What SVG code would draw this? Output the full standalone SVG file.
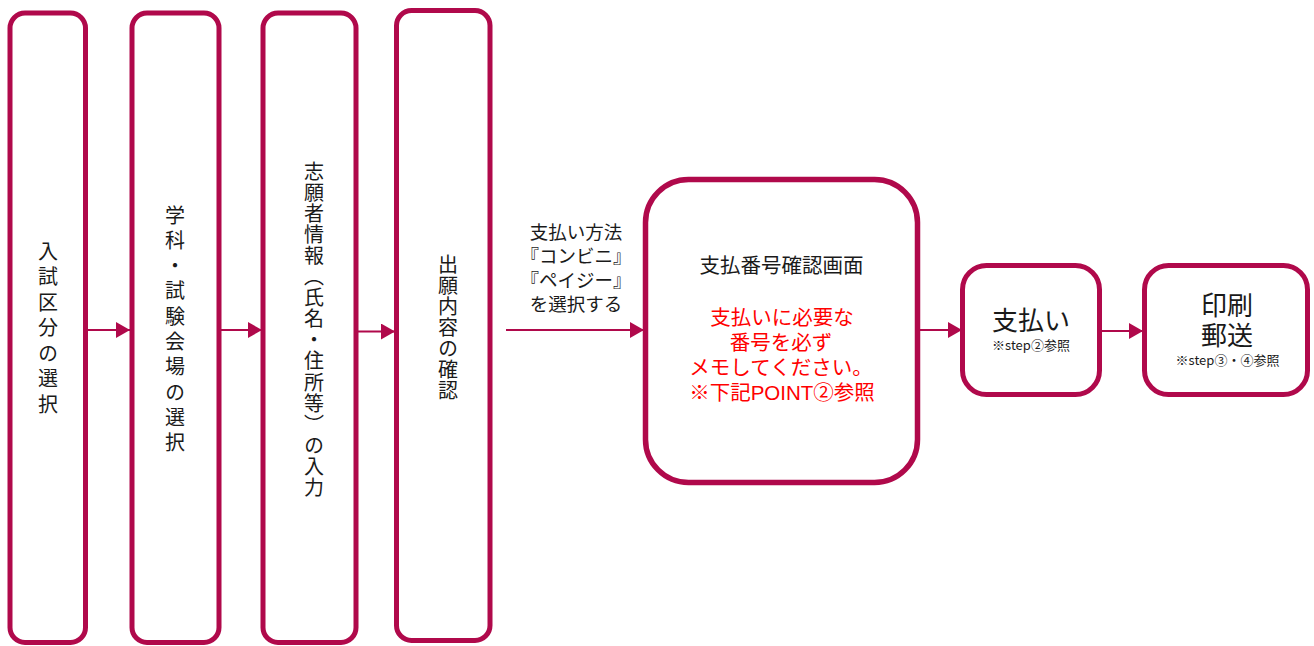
<svg xmlns="http://www.w3.org/2000/svg" width="1314" height="646" viewBox="0 0 1314 646">
<defs>
<style>
.box{fill:#fff;stroke:#B0094B;stroke-width:5}
.big{fill:#fff;stroke:#B0094B;stroke-width:5.5}
.con{stroke:#B0094B;stroke-width:2;fill:none}
.t{font-family:"Noto Sans CJK JP","Liberation Sans",sans-serif;fill:#1a1a1a}
.m{font-family:"Liberation Sans","Noto Sans CJK JP",sans-serif;fill:#1a1a1a}
.v{writing-mode:vertical-rl;font-size:20px}
.red{fill:#FF0000}
</style>
<marker id="ah" markerWidth="14" markerHeight="16" refX="14" refY="8" orient="auto" markerUnits="userSpaceOnUse">
<path d="M0,0 L14,8 L0,16 Z" fill="#B0094B"/>
</marker>
</defs>
<rect width="1314" height="646" fill="#fff"/>
<g id="connectors">
<line class="con" x1="88" y1="330" x2="130" y2="330" marker-end="url(#ah)"/>
<line class="con" x1="221" y1="330" x2="262" y2="330" marker-end="url(#ah)"/>
<line class="con" x1="351" y1="331.5" x2="395" y2="331.5" marker-end="url(#ah)"/>
<line class="con" x1="506" y1="330" x2="644" y2="330" marker-end="url(#ah)"/>
<line class="con" x1="920" y1="330" x2="962" y2="330" marker-end="url(#ah)"/>
<line class="con" x1="1102" y1="331" x2="1143" y2="331" marker-end="url(#ah)"/>
</g>
<g id="node1">
<rect class="box" x="10" y="13" width="75.5" height="629.5" rx="15"/>
<text class="t v" x="48" y="241" letter-spacing="5.5">入試区分の選択</text>
</g>
<g id="node2">
<rect class="box" x="132" y="13" width="87" height="629.5" rx="15"/>
<text class="t v" x="175" y="205" letter-spacing="5.3">学科・試験会場の選択</text>
</g>
<g id="node3">
<rect class="box" x="263" y="13" width="93" height="629.5" rx="15"/>
<text class="t v" x="314" y="161" letter-spacing="1.1">志願者情報（氏名・住所等）の入力</text>
</g>
<g id="node4">
<rect class="box" x="396.5" y="10.5" width="93.5" height="630" rx="15"/>
<text class="t v" x="448" y="254" letter-spacing="1.1">出願内容の確認</text>
</g>
<g id="label-payment">
<text class="m" font-size="18.5" text-anchor="middle"><tspan x="576" y="239">支払い方法</tspan><tspan x="576" y="263">『コンビニ』</tspan><tspan x="576" y="287">『ペイジー』</tspan><tspan x="576" y="311">を選択する</tspan></text>
</g>
<g id="node5">
<rect class="big" x="645.5" y="179.5" width="272" height="303" rx="43"/>
<text class="t" x="781.5" y="273" font-size="20.5" text-anchor="middle">支払番号確認画面</text>
<text class="m red" font-size="20.5" text-anchor="middle"><tspan x="782" y="325">支払いに必要な</tspan><tspan x="781" y="350">番号を必ず</tspan><tspan x="781" y="375">メモしてください。</tspan><tspan x="782" y="400">※下記POINT②参照</tspan></text>
</g>
<g id="node6">
<rect class="box" x="962.5" y="265.5" width="137" height="129" rx="24"/>
<text class="t" x="1031" y="330" font-size="26" text-anchor="middle">支払い</text>
<text class="t" x="1031" y="350" font-size="13" text-anchor="middle">※step②参照</text>
</g>
<g id="node7">
<rect class="box" x="1144.5" y="265.5" width="163" height="129" rx="24"/>
<text class="m" font-size="26" text-anchor="middle"><tspan x="1227" y="315">印刷</tspan><tspan x="1227" y="345">郵送</tspan></text>
<text class="t" x="1227.5" y="364.5" font-size="13" text-anchor="middle">※step③・④参照</text>
</g>
</svg>
